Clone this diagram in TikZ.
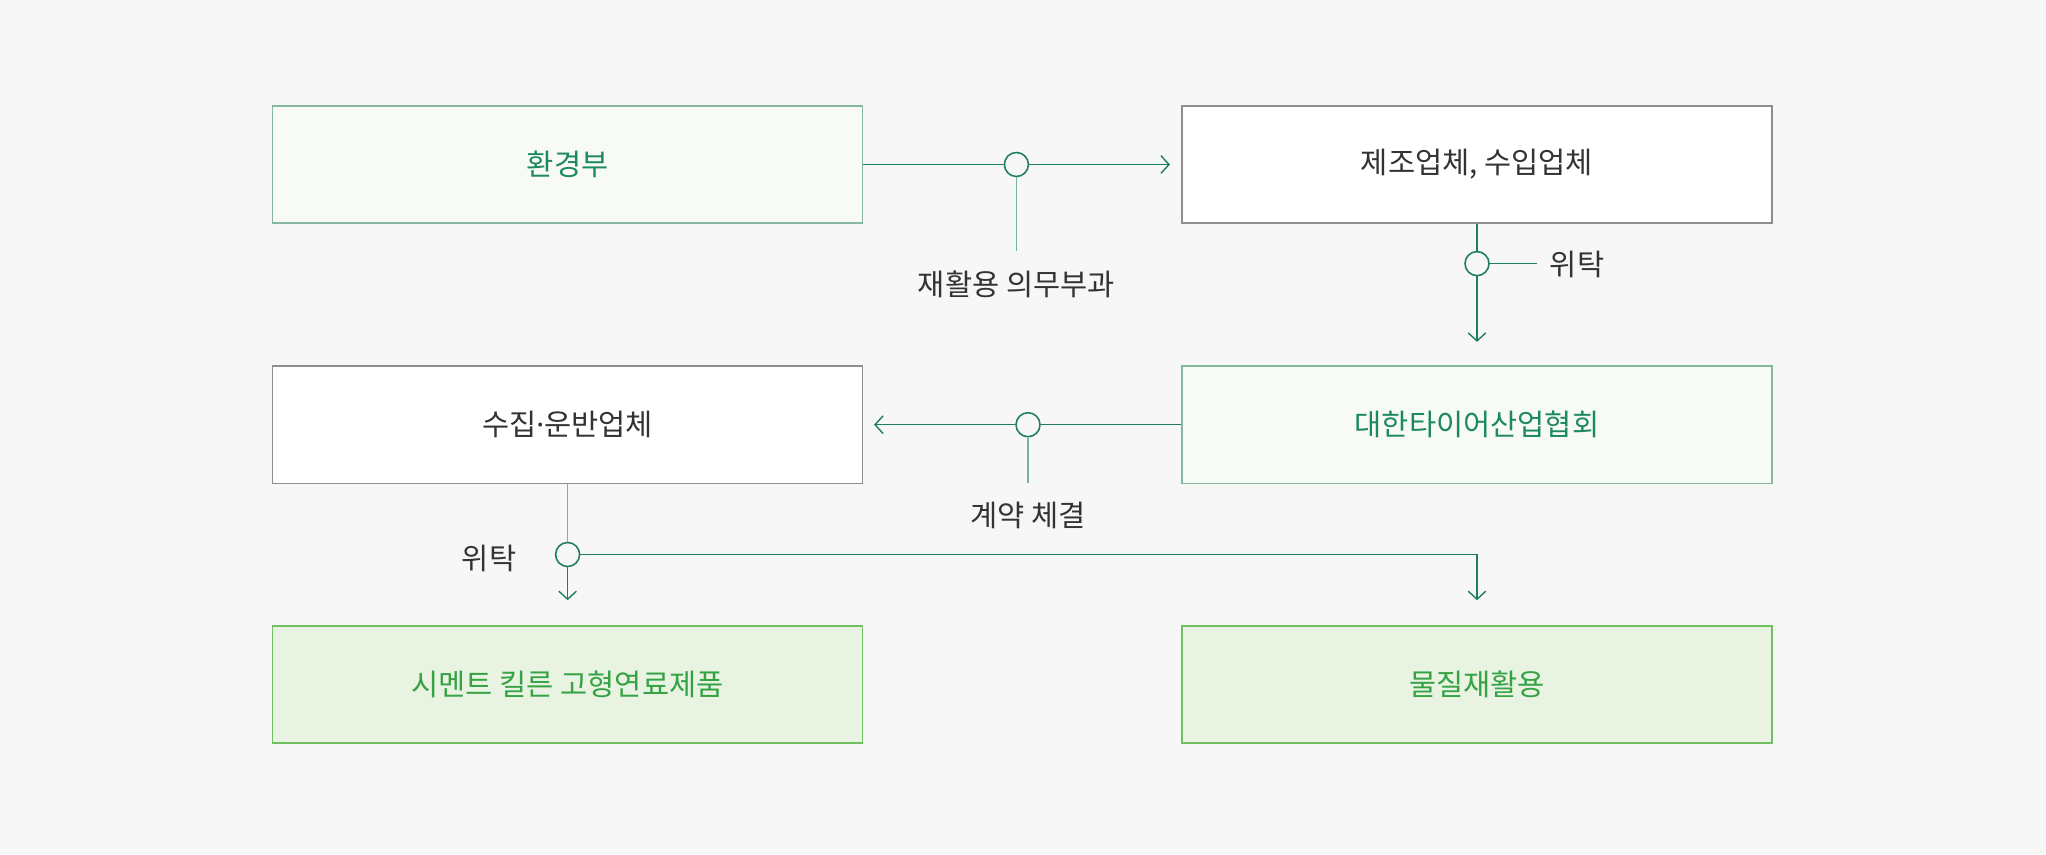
\documentclass[tikz,border=0pt]{standalone}
\usepackage{fontspec}
\setmainfont{Noto Sans CJK KR}
\newfontfamily\latinfont{Noto Sans}
\definecolor{bgcol}{HTML}{F7F7F7}
\definecolor{lngreen}{HTML}{1F7F5C}
\definecolor{txgreen}{HTML}{1C8A5C}
\definecolor{pagreen}{HTML}{F8FAF6}
\definecolor{bdgreen}{HTML}{86B8A0}
\definecolor{ltgreen}{HTML}{E8F3E2}
\definecolor{lbgreen}{HTML}{72BF62}
\definecolor{ltxgreen}{HTML}{35A244}
\definecolor{bdgray}{HTML}{8E8E8E}
\definecolor{txgray}{HTML}{333333}
\usetikzlibrary{arrows.meta,positioning}

\tikzset{
  box/.style={rectangle, minimum width=5.9cm, minimum height=1.17cm, inner sep=0pt,
    line width=0.4pt, font=\fontsize{8.4pt}{10pt}\selectfont},
  govbox/.style={box, draw=bdgreen, fill=pagreen, text=txgreen},
  firmbox/.style={box, draw=bdgray, fill=white, text=txgray},
  endbox/.style={box, draw=lbgreen, fill=ltgreen, text=ltxgreen},
  junction/.style={circle, draw=lngreen, fill=bgcol, line width=0.45pt,
    minimum size=0.24cm, inner sep=0pt},
  link/.style={draw=lngreen, line width=0.4pt},
  stem/.style={draw=lngreen!60, line width=0.45pt},
  tip/.style={-{Straight Barb[length=2.3pt,width=5pt]}},
  lbl/.style={text=txgray, inner sep=0pt, font=\fontsize{8.4pt}{10pt}\selectfont}
}

\begin{document}
\begin{tikzpicture}[x=0.01cm, y=-0.01cm]
  %% Background
  \fill[bgcol] (0,0) rectangle (2046,854);

  %% Boxes
  \node[govbox]  (moe)    at (567.6,164.5) {환경부};
  \node[firmbox] (maker)  at (1477,164.5)  {제조업체, 수입업체};
  \node[firmbox] (hauler) at (567.6,424.7) {수집{\latinfont·}운반업체};
  \node[govbox]  (assoc)  at (1477,424.7)  {대한타이어산업협회};
  \node[endbox]  (fuel)   at (567.6,684.4) {시멘트 킬른 고형연료제품};
  \node[endbox]  (recyc)  at (1477,684.4)  {물질재활용};

  %% Junction circles
  \node[junction] (j1) at (1016.4,164.5) {};
  \node[junction] (j2) at (1477,263.6)   {};
  \node[junction] (j3) at (1028,424.7)   {};
  \node[junction] (j4) at (567.6,554.5)  {};

  %% Loose ends
  \coordinate (t1) at (1170,164.5);
  \coordinate (s1) at (1016.4,250.5);
  \coordinate (t2) at (1477,341.9);
  \coordinate (s2) at (1537,263.6);
  \coordinate (t3) at (874,424.7);
  \coordinate (s3) at (1028,482.8);
  \coordinate (t4) at (567.6,600.2);
  \coordinate (k4) at (1477,554.5);
  \coordinate (t5) at (1477,600.2);

  %% Obligation: ministry -> makers
  \draw[link] (moe.east) -- (j1.west);
  \draw[link,tip] (j1.east) -- (t1);
  \draw[stem] (j1.south) -- (s1);
  \node[lbl] (oblig) at (1016.4,284.4) {재활용 의무부과};

  %% Makers -> association
  \draw[link] (maker.south) -- (j2.north);
  \draw[link,tip] (j2.south) -- (t2);
  \draw[link] (j2.east) -- (s2);
  \node[lbl] (trust1) at (1577,264) {위탁};

  %% Association -> haulers
  \draw[link] (assoc.west) -- (j3.east);
  \draw[link,tip] (j3.west) -- (t3);
  \draw[stem] (j3.south) -- (s3);
  \node[lbl] (contract) at (1028,515.4) {계약 체결};

  %% Haulers -> end uses
  \draw[stem] (hauler.south) -- (j4.north);
  \draw[link,tip] (j4.south) -- (t4);
  \draw[link,tip] (j4.east) -- (k4) -- (t5);
  \node[lbl] (trust2) at (489,558.5) {위탁};
\end{tikzpicture}
\end{document}
